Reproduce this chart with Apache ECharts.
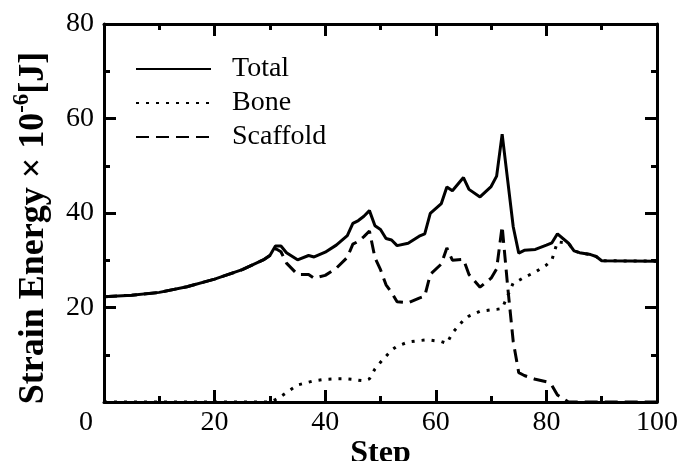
<!DOCTYPE html>
<html lang="en">
<head>
    <meta charset="UTF-8">
    <title>Strain Energy</title>
    <script src="https://cdn.jsdelivr.net/npm/echarts@6/dist/echarts.min.js"></script>
</head>
<body style="margin: 0">
<div style="width: 681px; height: 461px" id="energy-chart"></div>

<script type="text/javascript">
    var steps = [0, 5, 10, 15, 20, 25, 29, 30, 31, 32, 33, 35, 37, 38, 40, 42, 44, 45, 46, 47, 48, 49, 50,
        51, 52, 53, 55, 57, 58, 59, 61, 62, 63, 65, 66, 68, 70, 71, 72, 73, 74, 75, 76, 78, 80, 81, 82,
        84, 85, 86, 88, 89, 90, 100];
    var total = [22.3, 22.6, 23.2, 24.4, 26.0, 28.0, 30.2, 31.0, 33.0, 33.0, 31.6, 30.1, 31.0, 30.7, 31.7,
        33.2, 35.2, 37.8, 38.4, 39.3, 40.5, 37.3, 36.5, 34.6, 34.3, 33.1, 33.6, 35.1, 35.6, 39.9,
        42.0, 45.5, 44.7, 47.5, 45.0, 43.4, 45.6, 47.8, 56.7, 46.9, 37.1, 31.5, 32.1, 32.3, 33.2, 33.7, 35.6,
        33.6, 32.0, 31.6, 31.2, 30.8, 29.9, 29.8];
    var bone = [0, 0, 0, 0, 0, 0, 0, 0, 0.5, 1.2, 2.0, 3.6, 4.2, 4.5, 4.8,
        4.9, 4.9, 4.8, 4.6, 4.5, 4.9, 7.0, 8.4, 9.7, 11.0, 11.8, 12.7, 13.0, 13.1, 13.1,
        12.8, 12.4, 14.6, 17.3, 18.2, 19.2, 19.5, 19.6, 19.8, 22.5, 25.2, 25.7, 26.4, 27.5, 29.0, 30.1, 33.9,
        33.6, 32.0, 31.6, 31.2, 30.8, 29.9, 29.8];
    var scaffold = [22.3, 22.6, 23.2, 24.4, 26.0, 28.0, 30.2, 31.0, 32.5, 31.8, 29.4, 27.0, 27.0, 26.2, 26.8,
        28.3, 30.6, 33.4, 34.0, 35.0, 36.2, 30.5, 28.0, 24.8, 23.2, 21.2, 21.0, 22.0, 22.4, 27.0,
        29.2, 32.6, 30.0, 30.2, 27.0, 24.3, 26.2, 28.2, 37.2, 24.4, 12.8, 6.2, 5.6, 4.8, 4.3, 3.5, 1.5,
        0, 0, 0, 0, 0, 0, 0];
    var xTicks = [0, 20, 40, 60, 80, 100];
    var yTicks = [20, 40, 60, 80];

    var serif = '"Liberation Serif", "DejaVu Serif", serif';

    function pairs(vals) {
        return steps.map(function (s, i) {
            return [s, vals[i]];
        });
    }

    // frame on all four sides, ticks pointing in
    var frameLine = {show: true, onZero: false, lineStyle: {color: '#000', width: 3}};
    var majorTick = {show: true, inside: true, length: 12, lineStyle: {color: '#000', width: 3}};
    var minorTick = {show: true, splitNumber: 2, length: 6, lineStyle: {color: '#000', width: 3}};

    var myChart = echarts.init(document.getElementById('energy-chart'));
    var option = {
        animation: false,
        grid: {left: 104, right: 24, top: 24, bottom: 59, outerBoundsMode: 'none'},
        legend: {
            orient: 'vertical',
            left: 130,
            top: 50,
            itemWidth: 75,
            itemHeight: 14,
            itemGap: 6,
            data: ['Total', 'Bone', 'Scaffold'],
            itemStyle: {opacity: 0},
            textStyle: {fontFamily: serif, fontSize: 28, color: '#000', padding: [0, 0, 0, 16]}
        },
        xAxis: [{
            type: 'value', min: 0, max: 100, interval: 20,
            name: 'Step', nameLocation: 'middle', nameGap: 36, nameMoveOverlap: false,
            nameTextStyle: {fontFamily: serif, fontSize: 32, fontWeight: 'bold', color: '#000'},
            axisLine: frameLine, axisTick: majorTick, minorTick: minorTick,
            splitLine: {show: false},
            axisLabel: {
                margin: 7,
                fontFamily: serif, fontSize: 28, color: '#000',
                formatter: function (v) {
                    if (xTicks.indexOf(v) < 0) return '';
                    return v === 0 ? '{z|0}' : String(v);
                },
                rich: {z: {fontFamily: serif, fontSize: 28, color: '#000', padding: [0, 36, 0, 0]}}
            }
        }, {
            type: 'value', position: 'top', min: 0, max: 100, interval: 20,
            axisLine: frameLine, axisTick: majorTick, minorTick: minorTick,
            axisLabel: {show: false}, splitLine: {show: false}
        }],
        yAxis: [{
            type: 'value', min: 0, max: 80, interval: 20,
            name: '{b|Strain Energy × 10}{s|-6}{b|[J]}',
            nameLocation: 'middle', nameGap: 47, nameMoveOverlap: false,
            nameTextStyle: {
                padding: [0, 30, 0, 0],
                rich: {
                    b: {fontFamily: serif, fontSize: 36, fontWeight: 'bold', color: '#000', lineHeight: 46},
                    s: {fontFamily: serif, fontSize: 23, fontWeight: 'bold', color: '#000', verticalAlign: 'top'}
                }
            },
            axisLine: frameLine, axisTick: majorTick, minorTick: minorTick,
            splitLine: {show: false},
            axisLabel: {
                margin: 10,
                fontFamily: serif, fontSize: 28, color: '#000',
                formatter: function (v) {
                    return yTicks.indexOf(v) < 0 ? '' : String(v);
                }
            }
        }, {
            type: 'value', position: 'right', min: 0, max: 80, interval: 20,
            axisLine: frameLine, axisTick: majorTick, minorTick: minorTick,
            axisLabel: {show: false}, splitLine: {show: false}
        }],
        series: [
            {
                name: 'Total', type: 'line', data: pairs(total),
                symbol: 'none', z: 3,
                itemStyle: {color: '#000'},
                lineStyle: {color: '#000', width: 3}
            },
            {
                name: 'Bone', type: 'line', data: pairs(bone),
                symbol: 'none', z: 4,
                itemStyle: {color: '#000'},
                lineStyle: {color: '#000', width: 3, type: [3, 7]}
            },
            {
                name: 'Scaffold', type: 'line', data: pairs(scaffold),
                symbol: 'none', z: 4,
                itemStyle: {color: '#000'},
                lineStyle: {color: '#000', width: 3, type: [13, 7]}
            }
        ]
    };
    myChart.setOption(option);
</script>
</body>
</html>
